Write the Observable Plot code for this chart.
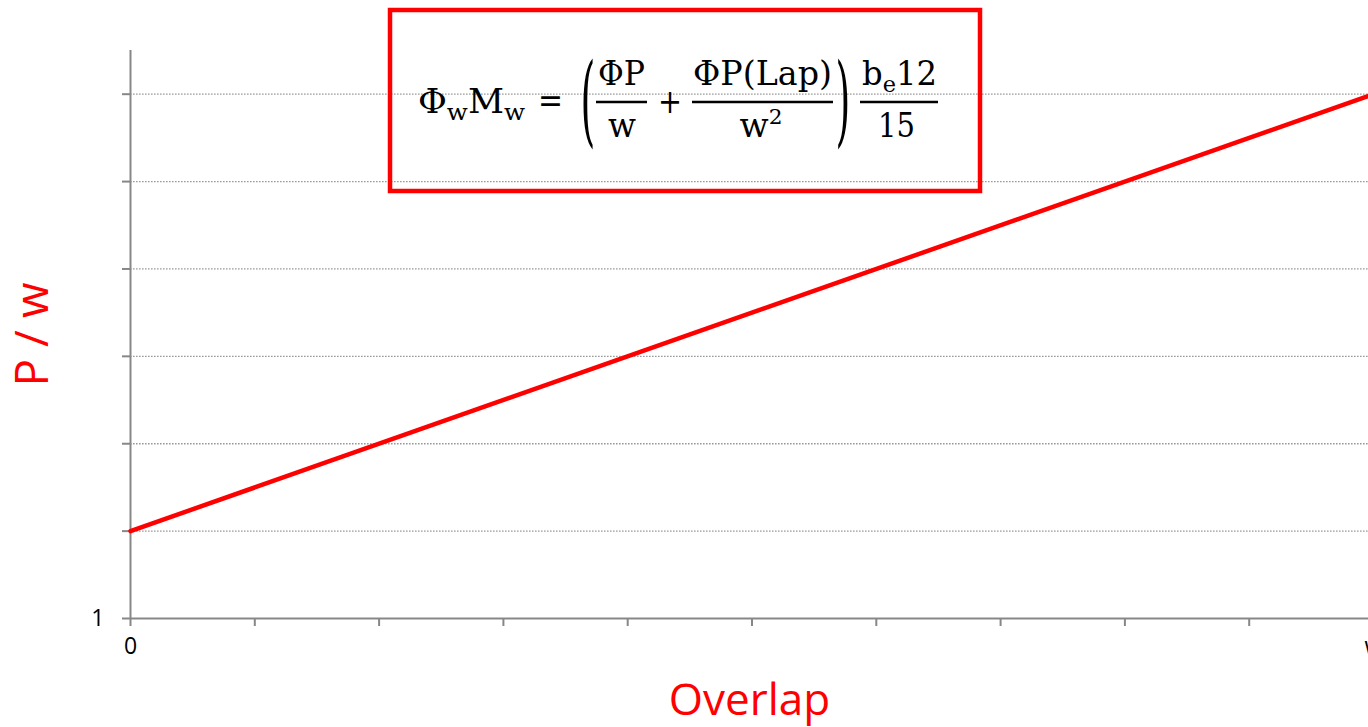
<!DOCTYPE html>
<html>
<head>
<meta charset="utf-8">
<script src="https://cdn.jsdelivr.net/npm/d3@7"></script>
<script src="https://cdn.jsdelivr.net/npm/@observablehq/plot@0.6"></script>
<style>
  html, body { margin: 0; padding: 0; background: #fff; overflow: hidden; }
  #wrap { position: relative; width: 1368px; height: 727px; }
  #wrap svg { display: block; }
  #formula { position: absolute; left: 0; top: 0; pointer-events: none; }
</style>
</head>
<body>
<div id="wrap"></div>
<script>
// ---- data ----
const overlap = [0, 10];          // x: 0 .. w
const pOverW = [2, 7];            // y: P / w
const xTicks = [0, 1, 2, 3, 4, 5, 6, 7, 8, 9, 10];
const xTickLabels = ["0", "", "", "", "", "", "", "", "", "", "w"];
const yTicks = [1, 2, 3, 4, 5, 6, 7];
const yTickLabels = ["1", "", "", "", "", "", ""];
const gridValues = [2, 3, 4, 5, 6, 7];
const xLabel = "Overlap";
const yLabel = "P / w";

const data = overlap.map((x, i) => ({x, y: pOverW[i]}));

const chart = Plot.plot({
  width: 1368,
  height: 727,
  marginTop: 50,
  marginBottom: 109,
  marginLeft: 130,
  marginRight: 0,
  style: {fontFamily: "'Open Sans', sans-serif", background: "#fff", overflow: "hidden"},
  x: {domain: [0, 10], range: [130, 1373]},
  y: {domain: [1, 7.5], range: [618, 50]},
  marks: [
    Plot.ruleY(gridValues, {stroke: "#9a9a9a", strokeWidth: 1.3, strokeDasharray: "1.6,1.4"}),
    Plot.axisX({
      ticks: xTicks,
      tickFormat: d => xTickLabels[xTicks.indexOf(d)],
      tickSize: 8, tickPadding: 11, fontSize: 23,
      stroke: "#878787", strokeWidth: 2, fill: "#000", label: null
    }),
    Plot.axisY({
      ticks: yTicks,
      tickFormat: d => yTickLabels[yTicks.indexOf(d)],
      tickSize: 8, tickPadding: 18, fontSize: 23,
      stroke: "#878787", strokeWidth: 2, fill: "#000", label: null
    }),
    Plot.ruleY([1], {stroke: "#878787", strokeWidth: 2}),
    Plot.ruleX([0], {stroke: "#878787", strokeWidth: 2}),
    Plot.line(data, {x: "x", y: "y", stroke: "#ff0000", strokeWidth: 4.5}),
    Plot.text([xLabel], {frameAnchor: "bottom", textAnchor: "middle", dy: 82, fontSize: 44, fill: "#ff0000", lineAnchor: "middle"}),
    Plot.text([yLabel], {frameAnchor: "left", textAnchor: "middle", dx: -97, rotate: -90, fontSize: 46, fill: "#ff0000", lineAnchor: "middle"})
  ]
});
document.getElementById("wrap").appendChild(chart);
d3.select(chart).selectAll('g[aria-label$="tick label"]').attr("font-size", 23);

// ---- formula annotation (real text) ----
const svg = d3.select("#wrap").append("svg")
  .attr("id", "formula").attr("width", 1368).attr("height", 727);

svg.append("rect").attr("x", 390).attr("y", 10).attr("width", 590).attr("height", 181)
  .attr("fill", "none").attr("stroke", "#ff0000").attr("stroke-width", 4.5);

const F = svg.append("g").attr("font-family", "'DejaVu Serif', serif").attr("font-size", 33).attr("fill", "#000");

function txt(x, y, parts, anchor, len) {
  const t = F.append("text").attr("x", x).attr("y", y).attr("text-anchor", anchor || "start");
  if (len) t.attr("textLength", len).attr("lengthAdjust", "spacingAndGlyphs");
  parts.forEach(p => {
    const s = t.append("tspan").text(p.t);
    if (p.fs) s.attr("font-size", p.fs);
    if (p.dy) s.attr("dy", p.dy);
  });
  return t;
}
// left side
txt(418, 113, [{t: "Φ"}, {t: "w", fs: 23, dy: 7}, {t: "M", fs: 33, dy: -7}, {t: "w", fs: 23, dy: 7}], "start", 107);
txt(550.5, 112, [{t: "="}], "middle", 25);
// parentheses
F.append("text").attr("transform", "translate(588,103.5) scale(1.15,3.0)").attr("y", 10.2)
  .attr("text-anchor", "middle").text("(");
F.append("text").attr("transform", "translate(843,103.5) scale(1.15,3.0)").attr("y", 10.2)
  .attr("text-anchor", "middle").text(")");
// fraction bars
[[596, 647], [692, 833], [860, 938]].forEach(([a, b]) =>
  F.append("line").attr("x1", a).attr("x2", b).attr("y1", 102).attr("y2", 102)
    .attr("stroke", "#000").attr("stroke-width", 2.5));
// fraction 1
txt(621.5, 85, [{t: "ΦP"}], "middle", 47);
txt(622, 137, [{t: "w"}], "middle", 28);
txt(670, 113, [{t: "+"}], "middle", 24);
// fraction 2
txt(762.5, 85, [{t: "ΦP(Lap)"}], "middle", 139);
txt(761, 137, [{t: "w"}, {t: "2", fs: 21, dy: -13}], "middle", 43);
// fraction 3
txt(899.5, 85, [{t: "b"}, {t: "e", fs: 23, dy: 7}, {t: "12", fs: 33, dy: -7}], "middle", 75);
txt(896.5, 137, [{t: "15"}], "middle", 37);
</script>
</body>
</html>
